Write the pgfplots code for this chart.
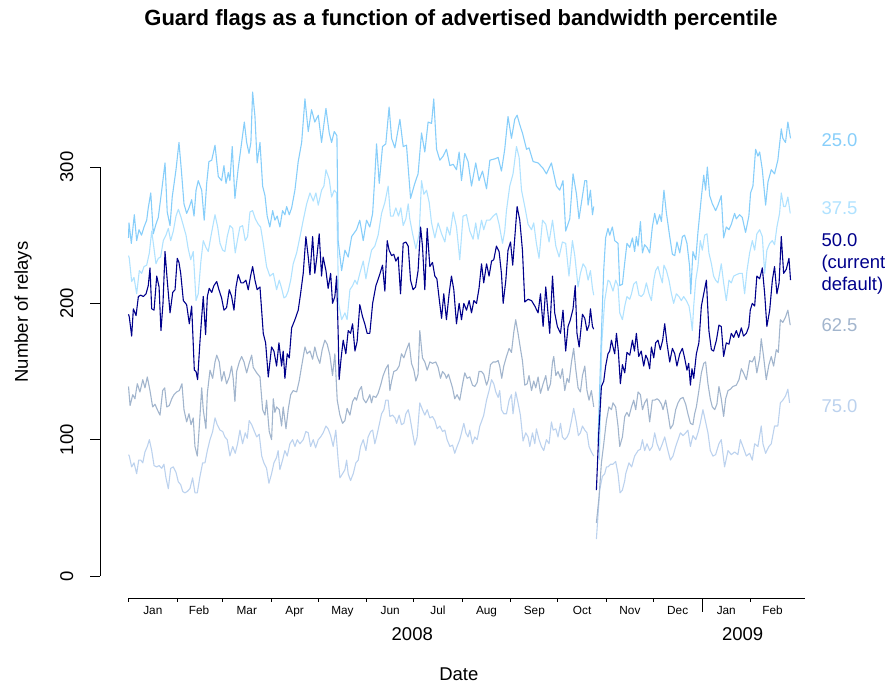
\documentclass[border=0pt]{standalone}
\usepackage{pgfplots}
\pgfplotsset{compat=1.18}
\usepackage{fontspec}
\setmainfont{Liberation Sans}
\definecolor{c25}{HTML}{87CEFA}
\definecolor{c375}{HTML}{B0E2FF}
\definecolor{c50}{HTML}{00008B}
\definecolor{c625}{HTML}{A2B5CD}
\definecolor{c75}{HTML}{BCD2EE}
\newcommand{\mlab}[2]{\node[anchor=base,font=\fontsize{11.8bp}{14bp}\selectfont] at ([yshift=-16.2bp]axis cs:#1,-16.14) {#2};}
\begin{document}
\begin{tikzpicture}[font=\fontsize{18.5bp}{22bp}\selectfont]
\useasboundingbox (-100bp,-90bp) rectangle (787bp,598bp);
\begin{axis}[at={(0,0)}, anchor=south west, scale only axis, width=712bp, height=538bp,
 xmin=-18.2, xmax=436.2, ymin=-16.14, ymax=378.5,
 axis line style={draw=none}, xtick=\empty, ytick=\empty,
 clip=false, unbounded coords=jump,
 every axis plot/.append style={line width=1.1bp, line join=round}]
% 75.0
\addplot[c75] coordinates {(0,89)(0.5,88)(2.0,80)(3.5,83)(5.2,75)(6.5,85)(7.8,85)(9.1,83)(10.5,91)(12.0,95)(13.3,100)(14.8,92)(16.3,81)(18.0,80)(19.5,81)(21.2,79)(22.6,82)(23.9,72)(25.4,64)(26.9,79)(28.6,80)(30.3,76)(31.8,69)(33.3,67)(34.6,62)(36.0,61)(37.5,62)(39.2,64)(40.9,72)(42.4,61)(43.9,61)(45.6,73)(47.3,83)(48.8,83)(50.3,92)(52.0,100)(53.7,106)(55.2,116)(56.6,111)(58.4,107)(60.1,106)(61.5,102)(63.0,100)(64.7,88)(66.5,95)(68.1,90)(69.6,97)(71.1,107)(72.8,97)(74.5,105)(75.8,101)(77.0,114)(78.6,111)(80.0,107)(81.8,102)(83.4,104)(85.0,88)(86.4,83)(88.1,79)(89.6,68)(91.3,75)(92.8,83)(94.5,87)(95.5,92)(96.6,78)(98.3,85)(99.8,92)(101.3,88)(103.0,97)(104.7,100)(106.2,95)(107.7,100)(109.4,97)(111.5,100)(113.2,106)(114.7,105)(116.2,95)(117.9,100)(119.4,94)(121.1,100)(122.6,102)(124.2,105)(126.0,110)(127.4,108)(129.0,103)(130.6,95)(132.3,107)(133.8,85)(134.9,72)(136.6,75)(138.1,78)(139.2,85)(140.2,75)(141.7,70)(143.4,75)(145.1,83)(146.6,85)(148.1,95)(149.8,100)(151.5,92)(152.9,102)(154.5,106)(155.8,107)(157.2,97)(158.3,102)(160.0,111)(161.5,119)(163.0,122)(164.2,129)(165.7,129)(166.8,117)(168.5,118)(170.0,116)(171.1,112)(172.7,118)(174.2,111)(175.7,112)(177.0,119)(178.5,122)(179.5,117)(181.3,105)(182.7,96)(184.2,102)(185.9,127)(187.6,122)(189.1,118)(190.6,122)(192.3,116)(194.0,117)(195.5,114)(197.0,108)(198.7,110)(200.4,106)(201.9,107)(203.3,100)(205.1,95)(206.8,96)(208.2,90)(209.7,95)(211.4,100)(212.5,105)(214.0,112)(215.3,105)(216.7,102)(217.8,107)(219.5,97)(221.0,102)(222.5,100)(224.2,110)(225.5,114)(226.7,118)(228.5,129)(230.1,136)(231.7,144)(233.1,141)(234.4,135)(235.9,131)(236.9,136)(238.0,122)(239.5,119)(241.2,119)(242.9,129)(244.4,133)(245.4,119)(247.1,135)(248.6,127)(250.1,118)(251.8,99)(253.5,105)(255.0,102)(256.1,95)(257.8,105)(259.3,97)(260.3,108)(262.0,100)(263.5,95)(265.0,92)(266.7,100)(268.4,97)(269.9,113)(271.0,107)(272.7,108)(274.1,102)(275.7,112)(276.9,102)(278.4,100)(279.9,102)(281.1,105)(282.7,114)(284.1,123)(285.9,112)(287.1,103)(288.4,105)(289.7,110)(291.2,107)(292.6,105)(293.9,95)(295.4,91)(296.9,88)(297.8,nan)(298.6,27)(300.7,63)(302.4,73)(303.9,75)(305.0,80)(306.0,80)(307.7,82)(309.2,82)(310.9,84)(312.4,75)(313.7,61)(315.2,63)(316.7,70)(317.3,75)(319.4,83)(321.1,80)(323.0,88)(325.2,92)(326.7,93)(328.0,100)(329.4,92)(330.9,97)(332.6,92)(334.3,95)(335.8,105)(337.3,97)(339.0,92)(340.7,97)(342.2,102)(343.6,95)(345.8,85)(347.5,88)(349.2,95)(350.7,100)(352.2,105)(353.9,103)(355.6,105)(357.0,107)(358.6,95)(360.2,103)(362.0,100)(363.4,105)(364.9,112)(366.6,122)(368.3,113)(369.8,105)(371.3,92)(373.0,88)(374.7,89)(376.8,97)(378.3,100)(380.4,80)(382.6,92)(384.7,89)(386.8,91)(388.9,89)(390.5,100)(392.1,95)(394.3,88)(396.4,90)(398.1,85)(399.6,97)(401.7,95)(403.8,110)(404.9,97)(406.6,90)(408.7,95)(410.2,97)(412.3,110)(414.4,110)(416.0,127)(417.6,129)(419.3,132)(420.8,137)(421.9,127)};
% 62.5
\addplot[c625] coordinates {(0,139)(1.0,125)(2.7,133)(4.1,130)(5.6,141)(7.3,135)(9.1,144)(10.5,138)(12.0,146)(13.7,136)(15.4,124)(16.9,126)(18.4,122)(20.1,118)(21.8,136)(23.1,138)(24.4,124)(26.0,125)(27.6,130)(29.0,133)(30.7,135)(32.4,136)(34.1,141)(35.4,122)(37.1,113)(38.6,119)(39.9,111)(41.3,116)(42.4,95)(43.9,88)(45.2,110)(46.7,138)(47.7,122)(49.4,108)(50.3,134)(52.0,151)(53.7,145)(55.2,157)(56.3,162)(57.9,157)(59.4,143)(60.9,150)(62.6,141)(64.3,146)(65.8,154)(66.8,145)(67.9,128)(69.0,150)(70.7,157)(72.2,161)(73.7,157)(75.4,149)(77.0,156)(78.6,162)(79.6,153)(81.8,149)(83.9,146)(85.6,122)(87.1,118)(88.1,129)(89.8,106)(91.3,100)(92.4,130)(93.4,120)(94.5,124)(96.2,122)(97.7,110)(98.7,124)(100.5,108)(101.9,122)(103.5,133)(105.1,136)(107.3,135)(108.9,143)(110.5,154)(112.6,168)(114.0,163)(115.8,165)(117.5,159)(118.9,168)(120.4,161)(122.1,156)(123.6,166)(125.3,173)(126.8,170)(128.5,162)(130.2,147)(131.7,163)(133.2,129)(134.9,118)(136.6,112)(138.1,114)(139.5,123)(141.3,118)(143.0,128)(144.5,131)(145.5,129)(147.2,136)(148.7,139)(149.8,130)(151.5,127)(152.9,130)(154.0,133)(155.1,127)(156.1,132)(157.9,131)(159.3,134)(160.9,140)(162.5,147)(164.2,152)(165.7,155)(166.8,136)(167.9,143)(169.3,150)(171.1,151)(172.7,154)(174.2,163)(175.7,160)(177.4,166)(179.1,171)(180.6,156)(182.1,151)(183.4,143)(184.8,148)(185.9,180)(187.6,160)(189.1,157)(190.6,151)(192.3,157)(194.0,156)(196.1,157)(197.6,153)(199.1,145)(200.4,150)(201.9,148)(202.9,145)(204.2,148)(205.5,143)(206.8,138)(208.2,130)(209.7,133)(211.4,129)(213.2,141)(214.6,149)(216.1,145)(217.8,146)(219.5,140)(221.0,139)(222.5,142)(223.7,150)(225.3,150)(226.7,148)(228.5,140)(229.7,144)(231.0,155)(232.7,157)(234.4,157)(235.9,158)(236.9,154)(238.2,145)(239.5,154)(241.2,161)(242.9,167)(244.4,164)(245.9,179)(247.1,188)(248.6,178)(250.1,167)(251.4,158)(252.9,140)(254.4,141)(255.6,147)(257.2,136)(258.6,143)(259.9,138)(261.4,146)(262.9,134)(264.6,141)(266.3,147)(267.7,136)(269.3,141)(270.6,157)(271.4,161)(272.7,147)(274.1,150)(275.7,145)(276.9,152)(278.4,136)(279.9,145)(281.1,142)(282.7,157)(284.1,167)(285.4,152)(286.9,138)(288.4,135)(289.7,147)(291.2,154)(292.6,136)(293.9,129)(295.4,136)(296.9,124)(297.8,nan)(298.6,39)(300.3,58)(301.8,83)(303.3,97)(305.0,114)(306.6,124)(308.2,122)(309.2,127)(310.9,124)(312.4,110)(313.5,95)(315.2,102)(316.7,117)(318.1,120)(319.4,117)(321.0,124)(322.4,129)(323.7,122)(325.2,135)(326.7,133)(328.0,122)(329.4,127)(330.9,130)(332.6,113)(334.3,129)(335.8,129)(337.3,130)(338.5,129)(340.1,126)(341.1,122)(342.8,129)(344.3,119)(345.8,108)(347.5,111)(349.2,122)(350.7,127)(352.2,130)(353.9,131)(355.6,126)(357.0,119)(358.6,112)(360.2,111)(361.3,119)(362.4,124)(364.0,136)(365.6,149)(367.1,156)(368.3,157)(369.8,141)(371.3,130)(372.6,124)(374.1,122)(375.5,126)(376.8,139)(378.3,130)(379.8,117)(381.1,130)(382.6,136)(384.1,137)(385.7,139)(387.9,140)(389.6,144)(391.1,152)(392.5,149)(394.3,144)(396.4,158)(398.1,157)(399.6,161)(401.0,149)(402.8,160)(403.8,174)(405.3,161)(407.0,144)(408.7,155)(410.2,161)(411.7,154)(413.4,166)(414.7,164)(416.0,188)(417.6,186)(419.3,190)(420.8,195)(422.3,184)};
% 37.5
\addplot[c375] coordinates {(0,235)(0.5,233)(2.0,216)(3.5,219)(5.2,207)(6.9,224)(8.4,222)(9.9,227)(11.6,228)(13.3,237)(14.8,253)(16.3,240)(17.5,229)(19.0,233)(20.5,234)(22.2,246)(23.9,250)(25.4,255)(26.9,246)(28.6,253)(30.3,264)(31.8,269)(33.3,264)(35.0,257)(36.7,250)(38.1,240)(39.7,232)(41.3,238)(43.1,202)(44.5,207)(46.2,231)(47.7,246)(49.4,241)(50.9,238)(52.4,248)(53.7,256)(55.2,265)(56.9,256)(58.4,244)(60.1,239)(61.5,238)(63.0,249)(64.7,257)(66.5,255)(68.1,237)(69.6,247)(71.1,256)(72.8,257)(74.5,246)(76.0,249)(77.5,267)(79.2,268)(80.9,262)(82.8,258)(84.3,256)(86.0,244)(88.1,227)(90.2,220)(92.4,222)(94.5,210)(96.2,217)(97.7,211)(99.2,204)(100.5,205)(101.9,209)(103.5,217)(105.1,229)(107.3,237)(109.8,251)(111.5,261)(113.7,273)(115.8,281)(117.9,275)(119.6,281)(121.1,272)(123.2,283)(124.7,286)(126.0,298)(128.1,291)(129.6,278)(131.3,283)(132.8,281)(134.1,200)(136.0,188)(138.1,193)(139.5,188)(141.3,210)(143.0,213)(144.5,217)(145.9,214)(147.6,222)(149.8,231)(151.5,218)(152.9,227)(155.1,239)(157.2,242)(159.3,250)(161.5,266)(163.6,274)(165.7,286)(167.2,264)(168.9,264)(170.6,270)(172.3,264)(173.8,270)(175.3,257)(177.0,262)(178.5,273)(179.5,262)(181.3,251)(183.4,240)(185.5,251)(187.0,290)(188.5,280)(190.2,283)(191.9,274)(193.4,259)(195.5,248)(197.6,259)(199.8,251)(201.9,245)(203.3,256)(205.1,250)(207.2,267)(209.3,256)(211.4,232)(213.5,264)(215.7,265)(217.8,253)(219.9,247)(221.6,259)(223.1,247)(225.3,261)(226.7,254)(228.5,261)(230.6,261)(232.7,264)(234.8,266)(236.5,258)(238.7,244)(240.1,253)(241.2,268)(243.3,286)(245.4,295)(247.6,315)(249.3,307)(250.8,283)(252.9,271)(255.0,258)(257.2,254)(258.6,259)(260.3,244)(262.0,233)(264.2,261)(266.3,258)(268.4,245)(270.6,261)(272.7,242)(274.8,234)(276.9,245)(279.0,244)(281.1,220)(283.3,246)(284.8,235)(286.9,212)(288.4,222)(290.1,229)(291.8,226)(293.3,217)(294.8,224)(296.1,211)(296.9,206)(298,nan)(300.5,85)(302.0,170)(303.9,202)(306.0,217)(307.1,216)(309.2,209)(310.9,217)(312.4,213)(313.5,193)(315.2,188)(316.7,198)(318.1,205)(319.9,203)(321.0,207)(322.4,214)(324.1,216)(325.8,206)(327.3,205)(328.8,207)(330.5,215)(332.2,207)(333.7,202)(335.2,217)(336.4,224)(337.9,227)(339.4,220)(340.7,215)(341.7,228)(343.3,224)(344.9,217)(346.5,207)(347.9,200)(349.6,207)(351.3,205)(352.8,202)(354.3,205)(356.0,202)(357.7,198)(358.8,190)(359.8,180)(360.7,198)(362.0,217)(363.4,227)(364.9,246)(366.2,239)(367.7,250)(369.2,251)(370.4,237)(372.0,229)(373.4,220)(374.7,217)(376.2,215)(378.3,229)(379.8,215)(381.5,202)(383.2,217)(384.7,215)(386.2,220)(387.9,221)(390.0,222)(391.7,222)(393.2,207)(394.7,224)(396.4,237)(398.1,246)(399.6,239)(401.0,251)(402.8,254)(404.5,249)(406.0,222)(407.4,239)(409.2,244)(410.9,246)(412.3,243)(413.8,256)(415.5,266)(416.6,281)(418.1,271)(419.3,271)(420.8,278)(422.3,266)};
% 25.0
\addplot[c25] coordinates {(0,248)(0.3,259)(1.8,244)(3.7,265)(5.2,246)(6.7,254)(8.3,250)(9.9,256)(11.6,261)(12.6,270)(14.2,281)(15.8,251)(17.5,258)(19.0,263)(21.2,283)(23.3,303)(24.7,267)(26.5,257)(27.9,278)(30.3,298)(32.2,318)(33.7,298)(35.4,273)(37.1,266)(38.6,270)(40.3,276)(41.8,264)(43.1,283)(44.5,290)(46.7,283)(48.3,261)(49.9,288)(51.3,304)(53.1,305)(55.2,316)(57.3,293)(59.4,290)(60.9,301)(62.2,288)(63.7,296)(64.7,290)(66.2,315)(67.9,277)(70.0,299)(72.2,318)(73.9,333)(75.4,318)(76.9,310)(78.1,318)(79.2,355)(80.7,337)(82.1,303)(83.9,318)(85.6,286)(87.1,279)(88.5,264)(90.2,256)(92.0,268)(93.4,261)(94.9,264)(96.6,256)(98.3,268)(99.8,265)(100.9,271)(102.6,265)(104.1,270)(106.2,283)(108.3,304)(110.5,318)(112.6,350)(114.7,326)(116.8,342)(118.9,333)(121.1,338)(123.2,318)(126.0,343)(128.1,325)(129.6,318)(131.3,326)(133.0,323)(133.8,246)(136.0,224)(138.1,239)(140.2,234)(142.4,249)(145.5,254)(147.6,261)(149.8,246)(151.9,261)(154.0,256)(155.8,266)(157.2,293)(158.3,317)(160.0,288)(162.1,315)(164.2,317)(166.3,344)(167.9,321)(170.0,314)(173.2,335)(175.3,315)(177.4,316)(180.0,277)(182.7,288)(184.8,295)(187.0,325)(189.1,311)(191.2,333)(193.4,332)(194.8,350)(196.6,313)(198.7,305)(200.8,308)(202.9,313)(205.1,301)(207.2,302)(209.3,298)(211.0,311)(212.5,290)(214.6,310)(216.7,304)(218.9,286)(221.6,303)(223.7,290)(225.9,297)(228.5,284)(230.6,305)(233.8,306)(235.9,307)(238.0,297)(240.1,313)(242.2,337)(244.4,321)(246.5,335)(248.0,338)(249.7,331)(251.4,325)(254.0,313)(255.6,314)(258.2,304)(261.4,303)(264.6,299)(266.7,295)(269.9,303)(273.1,286)(275.2,283)(277.3,290)(279.0,253)(281.6,262)(283.7,295)(285.9,280)(287.5,262)(289.2,275)(291.2,290)(292.4,290)(293.3,272)(294.8,283)(296.1,265)(296.9,271)(298,nan)(299.6,98)(301.8,178)(303.3,225)(304.5,248)(306.0,255)(307.1,250)(308.8,256)(310.3,246)(312.4,244)(313.5,213)(315.2,214)(316.7,230)(318.1,244)(319.9,241)(321.6,248)(323.0,238)(324.1,249)(325.2,242)(326.7,260)(328.0,237)(329.4,243)(330.9,241)(332.6,237)(334.3,256)(335.8,266)(337.3,258)(339.0,265)(340.1,260)(341.7,283)(343.3,266)(345.4,249)(347.1,236)(348.6,235)(350.0,245)(351.8,237)(353.5,249)(354.9,250)(356.4,244)(358.1,227)(358.8,207)(360.2,238)(362.0,232)(363.4,252)(365.6,278)(367.1,294)(368.3,283)(369.4,300)(370.9,279)(372.6,273)(374.7,268)(376.2,272)(378.3,279)(379.8,248)(381.5,256)(383.2,254)(384.7,258)(386.8,266)(387.9,262)(390.0,265)(391.7,263)(393.8,252)(395.9,264)(397.0,281)(398.5,286)(400.2,313)(401.7,308)(402.8,311)(404.5,298)(406.6,272)(408.1,289)(410.2,298)(412.3,295)(414.4,305)(416.6,328)(417.6,321)(419.3,318)(420.8,333)(422.5,321)};
% 50.0
\addplot[c50] coordinates {(0,192)(0.5,190)(2.0,176)(3.1,196)(4.8,191)(6.3,205)(7.8,206)(9.4,205)(11.2,207)(12.6,213)(13.7,226)(14.8,196)(16.3,195)(18.0,220)(19.5,212)(20.7,180)(22.0,200)(23.3,238)(24.7,217)(26.5,193)(28.2,208)(29.7,210)(31.1,233)(32.2,230)(33.3,222)(35.0,202)(37.1,199)(38.8,185)(40.3,198)(42.0,151)(43.1,150)(44.1,144)(45.6,172)(46.7,190)(47.7,205)(49.2,177)(50.3,205)(51.5,211)(53.1,208)(54.5,213)(56.3,216)(57.7,210)(59.4,204)(60.9,195)(62.6,197)(64.3,210)(65.8,205)(67.3,195)(68.6,212)(70.0,221)(71.8,215)(73.2,215)(74.9,217)(76.4,210)(77.9,220)(79.2,227)(80.7,217)(82.1,210)(83.9,212)(86.0,178)(87.5,171)(89.2,146)(91.3,168)(92.8,165)(94.5,154)(96.0,171)(97.7,154)(98.7,165)(99.8,145)(101.3,163)(102.6,160)(104.1,182)(106.2,188)(108.3,195)(109.8,207)(111.5,222)(113.2,249)(114.7,234)(115.8,221)(117.5,249)(118.9,222)(120.2,234)(121.7,251)(123.2,220)(124.2,234)(126.0,224)(127.4,211)(129.0,222)(130.2,200)(131.7,205)(132.8,220)(133.8,178)(134.4,144)(135.7,160)(137.0,173)(138.7,163)(140.2,180)(141.7,178)(143.0,185)(144.5,165)(145.9,172)(147.6,199)(149.4,190)(150.8,185)(152.3,178)(154.0,178)(155.8,200)(157.9,213)(160.0,220)(162.1,228)(163.6,209)(165.1,246)(166.3,239)(167.9,235)(169.3,236)(170.6,231)(172.1,234)(173.6,207)(175.3,244)(177.0,245)(178.5,242)(180.0,217)(181.6,210)(183.2,212)(184.8,224)(186.4,256)(187.6,242)(189.1,210)(190.6,255)(192.3,227)(194.0,230)(195.5,220)(196.8,218)(198.2,204)(199.8,189)(201.2,207)(202.9,188)(204.6,207)(206.1,220)(207.6,210)(209.3,185)(211.0,200)(212.5,188)(214.0,200)(215.7,195)(217.4,202)(218.9,193)(220.4,202)(222.1,200)(223.7,211)(225.3,229)(226.7,215)(228.5,229)(230.1,220)(231.7,231)(233.1,232)(234.8,242)(236.5,238)(238.0,222)(239.1,200)(240.8,217)(242.2,239)(243.8,245)(245.2,228)(246.7,251)(248.0,271)(249.7,261)(251.4,239)(252.9,201)(255.0,203)(257.2,202)(259.3,198)(261.4,193)(262.9,207)(264.6,183)(266.3,212)(267.7,193)(268.8,178)(270.6,220)(272.0,193)(273.7,183)(275.7,178)(277.3,195)(279.0,165)(280.5,183)(282.0,188)(283.7,196)(285.1,213)(286.2,178)(287.6,168)(289.7,192)(291.2,189)(292.6,180)(293.9,184)(294.8,196)(296.1,183)(296.9,181)(297.8,nan)(298.6,63)(300.1,105)(301.8,139)(303.3,143)(304.5,154)(306.0,163)(307.1,165)(308.2,173)(309.2,168)(310.3,163)(311.4,178)(312.6,165)(313.9,141)(315.2,155)(316.7,149)(318.1,164)(319.9,162)(321.6,173)(322.9,165)(324.1,178)(325.6,161)(327.2,165)(328.8,154)(330.1,162)(331.3,159)(332.6,152)(333.7,168)(335.2,160)(336.4,171)(337.9,173)(339.4,166)(340.9,173)(342.2,185)(343.6,171)(345.4,157)(347.1,167)(348.6,163)(350.0,154)(351.8,163)(353.5,167)(354.9,160)(356.4,151)(357.5,156)(358.6,140)(359.6,152)(360.7,145)(362.4,163)(364.0,171)(365.6,198)(367.1,207)(368.8,217)(370.4,180)(372.0,166)(373.4,165)(375.2,173)(376.8,184)(378.3,183)(379.8,161)(381.5,171)(383.2,170)(384.7,178)(386.2,175)(387.9,180)(389.4,175)(391.1,182)(392.5,176)(394.3,178)(395.9,183)(396.8,195)(398.1,200)(399.6,198)(401.0,220)(402.8,218)(404.5,226)(406.0,207)(407.4,183)(409.2,195)(410.9,217)(412.3,227)(413.8,207)(415.2,215)(416.6,249)(418.1,222)(419.8,225)(421.5,233)(422.5,217)};
% y axis
\draw[line width=0.8bp] (axis cs:-18.2,0) -- (axis cs:-18.2,300);
\pgfplotsinvokeforeach{0,100,200,300}{
  \draw[line width=0.8bp] (axis cs:-18.2,#1) -- ++(-10bp,0pt);
  \node[rotate=90] at ([xshift=-33.3bp]axis cs:-18.2,#1) {#1};
}
% x axis
\draw[line width=0.8bp] (axis cs:0,-16.14) -- (axis cs:431.7,-16.14);
\pgfplotsinvokeforeach{0,31,60,91,121,152,182,213,244,274,305,335,397}{
  \draw[line width=0.8bp] (axis cs:#1,-16.14) -- ++(0pt,-4bp);
}
\draw[line width=0.8bp] (axis cs:366,-16.14) -- ++(0pt,-14bp);
\mlab{15.5}{Jan}\mlab{45}{Feb}\mlab{75.5}{Mar}\mlab{106}{Apr}\mlab{136.5}{May}\mlab{167}{Jun}
\mlab{197.5}{Jul}\mlab{228.5}{Aug}\mlab{259}{Sep}\mlab{289.5}{Oct}\mlab{320}{Nov}\mlab{350.5}{Dec}
\mlab{381.5}{Jan}\mlab{411}{Feb}
\node[anchor=base] at ([yshift=-42bp]axis cs:181.1,-16.14) {2008};
\node[anchor=base] at ([yshift=-42bp]axis cs:391.9,-16.14) {2009};
\node[anchor=base] at ([yshift=-82bp]axis cs:210.8,-16.14) {Date};
\end{axis}
\node[anchor=base, font=\bfseries\fontsize{22bp}{26bp}\selectfont] at (361bp,572bp) {Guard flags as a function of advertised bandwidth percentile};
\node[rotate=90] at (-77bp,286bp) {Number of relays};
\node[anchor=base west, text=c25] at (718bp,451.3bp) {25.0};
\node[anchor=base west, text=c375] at (718bp,383bp) {37.5};
\node[anchor=base west, text=c50] at (718bp,351bp) {50.0};
\node[anchor=base west, text=c50] at (718bp,329bp) {(current};
\node[anchor=base west, text=c50] at (718bp,307bp) {default)};
\node[anchor=base west, text=c625] at (718bp,266bp) {62.5};
\node[anchor=base west, text=c75] at (718bp,185bp) {75.0};
\end{tikzpicture}
\end{document}
